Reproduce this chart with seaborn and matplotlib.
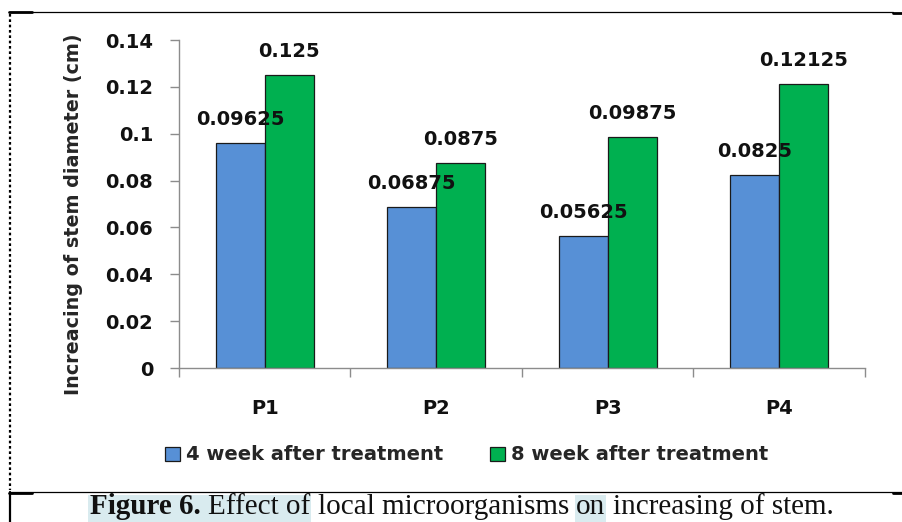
import matplotlib
matplotlib.use("Agg")
import matplotlib.pyplot as plt
from matplotlib.lines import Line2D
from matplotlib.patches import Rectangle
import seaborn as sns
import pandas as pd

# ---- data ----
categories = ["P1", "P2", "P3", "P4"]
series_names = ["4 week after treatment", "8 week after treatment"]
week4_values = [0.09625, 0.06875, 0.05625, 0.0825]
week8_values = [0.125, 0.0875, 0.09875, 0.12125]
y_ticks = [0, 0.02, 0.04, 0.06, 0.08, 0.1, 0.12, 0.14]
y_tick_labels = ["0", "0.02", "0.04", "0.06", "0.08", "0.1", "0.12", "0.14"]
y_label = "Increacing of stem diameter (cm)"
caption_bold = "Figure 6."
caption_rest = ["Effect of", "local microorganisms", "on", "increasing of stem."]

colors = {series_names[0]: "#5790D6", series_names[1]: "#00B050"}

df = pd.DataFrame({
    "category": categories * 2,
    "series": [series_names[0]] * 4 + [series_names[1]] * 4,
    "value": week4_values + week8_values,
})

sns.set_style("white")
plt.rcParams["font.family"] = ["DejaVu Sans"]
plt.rcParams["font.weight"] = "bold"

W, H = 903, 522
fig = plt.figure(figsize=(W / 100, H / 100), dpi=100)
fig.patch.set_facecolor("white")

ax_l, ax_r, ax_t, ax_b = 179, 865, 40, 368
ax = fig.add_axes([ax_l / W, 1 - ax_b / H, (ax_r - ax_l) / W, (ax_b - ax_t) / H])

sns.barplot(data=df, x="category", y="value", hue="series", palette=colors,
            width=0.572, edgecolor="#1a1a1a", linewidth=0.9, ax=ax,
            legend=True, errorbar=None, saturation=1)

ax.set_xlim(-0.5, 3.5)
ax.set_ylim(0, 0.14)
ax.set_yticks(y_ticks)
ax.set_yticklabels(y_tick_labels)
ax.set_xlabel("")
ax.set_ylabel(y_label, fontsize=13.8, fontweight="bold", va="center", ha="center")
ax.yaxis.set_label_coords((73.5 - ax_l) / (ax_r - ax_l), (ax_b - 214) / (ax_b - ax_t))

for s in ["top", "right"]:
    ax.spines[s].set_visible(False)
for s in ["left", "bottom"]:
    ax.spines[s].set_color("#8c8c8c")
    ax.spines[s].set_linewidth(1.0)

ax.tick_params(axis="y", which="major", left=True, direction="out", length=6.5, width=1.0,
               color="#8c8c8c", pad=12, labelsize=14, labelcolor="#111111")
ax.tick_params(axis="x", which="major", bottom=True, length=0, pad=22, labelsize=14,
               labelcolor="#111111")
ax.set_xticks([-0.5, 0.5, 1.5, 2.5, 3.5], minor=True)
ax.tick_params(axis="x", which="minor", bottom=True, direction="out", length=6.5, width=1.0,
               color="#8c8c8c")
for lbl in ax.get_xticklabels() + ax.get_yticklabels():
    lbl.set_fontweight("bold")

for cont in ax.containers:
    ax.bar_label(cont, fmt="{:g}", padding=10, fontsize=14, fontweight="bold",
                 color="#111111")

# legend below the plot
handles, labels = ax.get_legend_handles_labels()
ax.get_legend().remove()
fig.legend(handles, labels, loc="center", bbox_to_anchor=(466.5 / W, 1 - 455 / H),
           ncol=2, frameon=False, handlelength=0.8, handleheight=0.7,
           handletextpad=0.3, columnspacing=2.4,
           prop={"weight": "bold", "size": 14})

# ---- frame lines of the figure box ----
def px_line(x0, y0, x1, y1, **kw):
    fig.add_artist(Line2D([x0 / W, x1 / W], [1 - y0 / H, 1 - y1 / H],
                          transform=fig.transFigure, **kw))

px_line(9, 11.5, 893, 11.5, color="black", lw=0.9)
px_line(9, 12, 32, 12, color="black", lw=2.0)
px_line(893, 12.5, 903, 12.5, color="black", lw=2.0)
px_line(10, 14, 10, 490, color="black", lw=1.6, ls=(0, (1.2, 1.2)))
px_line(9, 492, 903, 492, color="black", lw=0.9)
px_line(9, 492.5, 32, 492.5, color="black", lw=2.0)
px_line(893, 492.5, 903, 492.5, color="black", lw=2.0)
px_line(10, 492, 10, 522, color="black", lw=1.6)

# ---- caption with highlighted words ----
cap_size = 21
serif = ["Liberation Serif", "DejaVu Serif"]
renderer = fig.canvas.get_renderer()
baseline_y = 1 - 514.5 / H
x_px = 90.0
space_px = 0.25 * cap_size * 100 / 72
pieces = [(caption_bold, "bold")] + [(t, "normal") for t in caption_rest]
extents = []
for txt, wt in pieces:
    t = fig.text(x_px / W, baseline_y, txt, fontsize=cap_size, fontweight=wt,
                 family=serif, va="baseline", ha="left", color="#111111", zorder=5)
    bb = t.get_window_extent(renderer=renderer)
    extents.append((x_px, x_px + bb.width))
    x_px += bb.width + space_px

highlight = "#D9EBEF"
hl_spans = [(extents[0][0] - 2, extents[1][1] + 1), (extents[3][0] - 1, extents[3][1] + 1)]
for a, b in hl_spans:
    fig.add_artist(Rectangle((a / W, 0), (b - a) / W, (H - 495) / H,
                             transform=fig.transFigure, facecolor=highlight,
                             edgecolor="none", zorder=1))

fig.savefig("out.png", dpi=100)
